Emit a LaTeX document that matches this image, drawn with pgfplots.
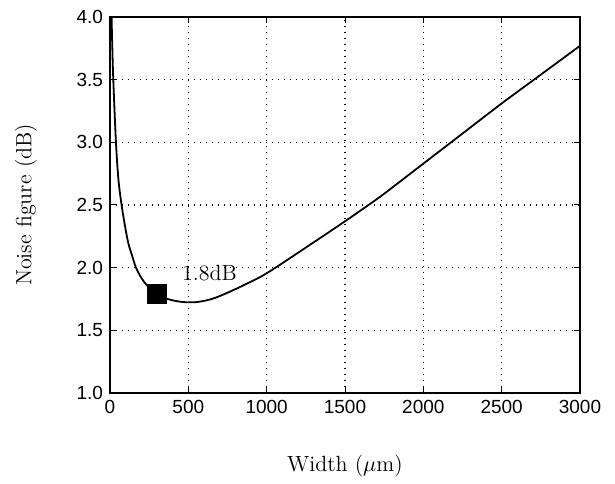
\documentclass[border=0pt]{standalone}
\usepackage{fontspec}
\usepackage{pgfplots}
\pgfplotsset{compat=1.18}
\newfontfamily\helv{Liberation Sans}

\begin{document}
\begin{tikzpicture}
\begin{axis}[
  scale only axis,
  width=235pt, height=188pt,
  xmin=0, xmax=3000, ymin=1, ymax=4,
  xtick={0,500,...,3000},
  ytick={1,1.5,...,4},
  axis line style={line width=0.9pt},
  tick align=inside,
  major tick length=3pt,
  tick style={black, line width=0.5pt},
  grid=major,
  major grid style={black, line width=0.55pt, dash pattern=on 0.6pt off 2.4pt},
  tick label style={font=\helv\fontsize{9.5}{11}\selectfont},
  /pgf/number format/assume math mode=true,
  xticklabel style={/pgf/number format/set thousands separator={}},
  yticklabel style={/pgf/number format/.cd, fixed, fixed zerofill, precision=1},
  xlabel={Width ($\mu$m)},
  ylabel={Noise figure (dB)},
  label style={font=\fontsize{11}{13}\selectfont},
  xlabel style={yshift=-14pt},
  ylabel style={yshift=13pt},
  clip=true,
]
\addplot[black, line width=0.9pt, smooth, tension=0.5] coordinates {
  (7,4.2) (10,4.0) (15,3.75) (21,3.5) (38,3.0) (54,2.70) (74,2.5)
  (96,2.33) (117,2.195) (140,2.10) (166,2.0) (202,1.915) (238,1.856)
  (300,1.795) (368,1.75) (457,1.727) (550,1.725) (650,1.75) (750,1.80)
  (870,1.87) (1000,1.955) (1250,2.16) (1500,2.37) (1650,2.5) (1750,2.59)
  (2000,2.83) (2250,3.07) (2500,3.31) (2750,3.54) (3000,3.77)
};
\addplot[only marks, mark=square*, mark size=4.7pt, black] coordinates {(300,1.79)};
\node[anchor=center, font=\fontsize{11}{13}\selectfont] at (axis cs:635,1.96) {1.8dB};
\end{axis}
\path[use as bounding box] (-55pt,-44pt) rectangle (252.5pt,196.5pt);
\end{tikzpicture}
\end{document}
